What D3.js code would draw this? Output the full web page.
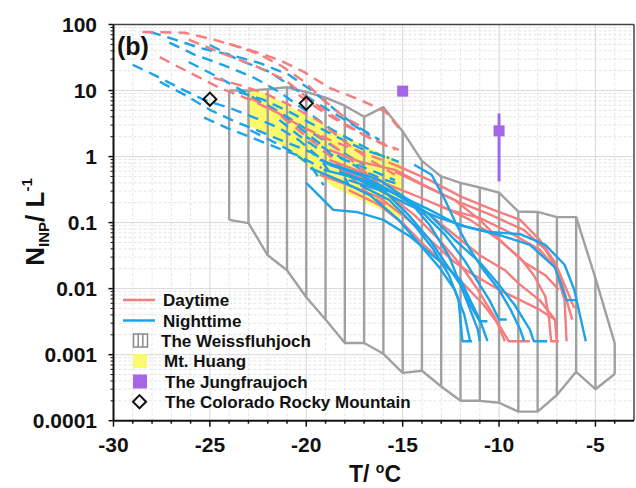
<!DOCTYPE html>
<html><head><meta charset="utf-8">
<script src="https://cdn.jsdelivr.net/npm/d3@7"></script>
<style>body{margin:0;background:#fff}svg text{font-family:"Liberation Sans",Arial,sans-serif;font-weight:bold;fill:#111}</style>
</head><body><svg id="c" width="636" height="488"></svg>
<script>
// ---------- data ----------
const xTicks = [-30, -25, -20, -15, -10, -5];
const yTicks = [100, 10, 1, 0.1, 0.01, 0.001, 0.0001];
const yTickLabels = ["100", "10", "1", "0.1", "0.01", "0.001", "0.0001"];

// The Weissfluhjoch range (upper / lower envelope at each integer T)
const weissT = [-24,-23,-22,-21,-20,-19,-18,-17,-16,-15,-14,-13,-12,-11,-10,-9,-8,-7,-6,-5,-4];
const weissUpper = [10,10,10.5,11.2,9.5,7.8,5.9,4.0,5.6,2.4,0.86,0.50,0.40,0.34,0.285,0.147,0.145,0.121,0.121,0.0144,0.0015];
const weissLower = [0.11,0.098,0.032,0.019,0.0074,0.0034,0.0015,0.0015,0.00103,0.00053,0.00057,0.00033,0.0002,0.0002,0.000187,0.000137,0.000137,0.000245,0.00055,0.0003,0.00051];

// Mt. Huang (outline)
const huang = [[-23.05,11.3],[-21.9,8.6],[-20.9,5.7],[-19.8,4.0],[-18.6,2.5],[-16.9,1.42],[-15.3,0.89],[-15.0,0.70],
  [-15.0,0.14],[-15.2,0.118],[-16.9,0.2],[-18.6,0.35],[-20.35,0.89],[-22.1,2.26],[-23.05,3.0]];

// The Jungfraujoch
const jungT = [-15, -10];
const jungN = [9.8, 2.45];
const jungLo = [null, 0.42];
const jungHi = [null, 4.5];

// The Colorado Rocky Mountain
const coloT = [-25, -20];
const coloN = [7.4, 6.4];

// Daytime, dashed
const dayDashed = [
  [[-28.5,77],[-26.3,75],[-24.8,59],[-22.9,41],[-21.4,29],[-20.1,19],[-18.8,11],[-17.2,7.2],[-15.9,4.8],[-15.2,2.7]],
  [[-27.6,32],[-26.1,19],[-24.5,11],[-22.9,7.2],[-21.6,4.8],[-20.4,3.0],[-18.8,1.8],[-17.2,1.18],[-15.4,0.75]],
  [[-26.1,59],[-24.2,35],[-22.7,24],[-21.1,14.5],[-19.8,7.2],[-18.5,3.9],[-17.0,2.1],[-15.4,1.26]],
  [[-24.8,15.6],[-23.5,12.2],[-22.2,9.2],[-20.9,6.1],[-19.3,3.4],[-18.0,1.67],[-16.7,0.89],[-15.4,0.53]],
  [[-22.9,7.7],[-21.6,4.8],[-20.4,2.5],[-19.1,1.26],[-17.8,0.53],[-16.7,0.26],[-15.9,0.185]],
  [[-24.0,51],[-22.5,36],[-21.3,23.7],[-20.1,13.6],[-19.1,7.2],[-18.0,3.9],[-17.0,2.7]],
  [[-20.4,8.6],[-19.3,5.1],[-18.0,3.0],[-16.5,1.79],[-15.2,1.26]],
  [[-19.5,2.2],[-18.5,1.4],[-17.5,0.8],[-16.5,0.45],[-15.8,0.3]]
];
// Nighttime, dashed
const nightDashed = [
  [[-28.1,77],[-26.8,59],[-25.5,44],[-24.0,35],[-22.4,26],[-20.9,17.3],[-19.6,9.5],[-18.5,5.1],[-17.5,3.0],[-16.2,1.79]],
  [[-29.0,24.5],[-27.9,17.3],[-26.6,11],[-25.3,7.2],[-24.0,5.5],[-22.7,3.9],[-21.4,2.7],[-20.4,1.79],[-19.3,0.95],[-18.5,0.44]],
  [[-27.1,53],[-25.8,35],[-24.2,23.7],[-22.7,15.6],[-21.4,9.5],[-20.1,5.1],[-18.8,2.7],[-17.5,1.67],[-16.2,1.06],[-15.2,0.83]],
  [[-27.6,13.6],[-26.3,8.6],[-25.0,5.1],[-23.7,3.4],[-22.4,2.4],[-21.1,1.67],[-19.8,1.18],[-18.8,0.75]],
  [[-26.1,27],[-24.5,15.6],[-23.2,9.5],[-21.9,5.5],[-20.6,3.1],[-19.4,1.67],[-18.4,0.83],[-17.8,0.37]],
  [[-25.3,3.9],[-24.1,2.7],[-22.8,1.92],[-21.5,1.35],[-20.4,1.03],[-19.2,0.67]],
  [[-23.5,9.5],[-22.2,7.2],[-20.9,4.8],[-19.6,3.0],[-18.3,1.92],[-17.0,1.26],[-15.7,0.95]],
  [[-25.0,49],[-23.5,29],[-21.9,19.2],[-20.5,10.2],[-19.3,6.1],[-18.0,3.6],[-16.7,2.1]],
  [[-21.4,3.6],[-20.4,2.1],[-19.3,1.26],[-18.0,0.89],[-16.7,0.63],[-15.4,0.44]],
  [[-22.9,2.5],[-21.9,1.79],[-20.9,1.26],[-19.8,0.75],[-19.1,0.37]],
  [[-20.0,2.0],[-19.0,1.3],[-18.0,0.9],[-17.0,0.6],[-16.0,0.45],[-15.2,0.38]],
  [[-22.0,6.0],[-21.0,4.0],[-20.0,2.6],[-19.0,1.7],[-18.0,1.1],[-17.0,0.75]]
];
// Daytime, solid
const daySolid = [
  [[-15.4,0.75],[-13.6,0.44],[-12.0,0.25],[-10.3,0.156],[-8.9,0.11],[-7.9,0.055],[-7.1,0.025],[-6.6,0.0114],[-6.1,0.0051]],
  [[-15.4,0.59],[-13.6,0.33],[-12.0,0.2],[-10.3,0.126],[-8.7,0.077],[-7.6,0.039],[-6.9,0.018],[-6.5,0.0067],[-6.2,0.0034]],
  [[-18.8,0.89],[-17.2,0.59],[-15.7,0.37],[-14.1,0.24],[-12.6,0.156],[-11.0,0.118],[-9.5,0.072],[-7.9,0.039],[-7.1,0.021],[-6.6,0.0067],[-6.5,0.0016]],
  [[-18.3,0.63],[-16.7,0.44],[-15.2,0.26],[-13.6,0.131],[-12.3,0.065],[-11.0,0.032],[-9.7,0.019],[-8.9,0.0114],[-7.9,0.0067],[-7.1,0.0034],[-7.0,0.0016]],
  [[-19.3,0.53],[-17.8,0.37],[-16.2,0.24],[-14.7,0.11],[-13.6,0.055],[-12.3,0.025],[-11.3,0.016],[-10.0,0.0096],[-8.9,0.0067],[-7.9,0.0048],[-7.1,0.0034]],
  [[-17.8,0.31],[-16.2,0.185],[-14.9,0.092],[-13.9,0.046],[-12.8,0.023],[-11.8,0.0114],[-10.8,0.0057],[-10.0,0.0028],[-9.5,0.0016],[-8.4,0.0016]],
  [[-17.2,0.44],[-15.7,0.26],[-14.4,0.131],[-13.1,0.055],[-12.0,0.023],[-11.1,0.0096],[-10.2,0.0036],[-9.7,0.0016]],
  [[-18.8,1.26],[-17.2,0.83],[-15.4,0.63],[-13.9,0.37],[-12.3,0.22],[-11.0,0.11],[-9.7,0.046],[-8.7,0.025],[-7.6,0.016],[-6.9,0.0096]],
  [[-13.1,0.185],[-11.5,0.11],[-10.0,0.055],[-8.9,0.029],[-8.2,0.016],[-7.6,0.0076],[-7.4,0.0034],[-7.3,0.0016],[-6.9,0.0016]]
];
// Nighttime, solid
const nightSolid = [
  [[-19.8,0.67],[-18.3,0.44],[-16.7,0.26],[-15.2,0.11],[-14.1,0.046],[-13.1,0.021],[-12.3,0.0096],[-11.8,0.004],[-11.5,0.0016]],
  [[-20.0,0.40],[-18.6,0.156],[-17.4,0.145],[-16.0,0.11],[-14.6,0.061],[-13.8,0.039],[-12.7,0.021],[-12.0,0.0136],[-11.5,0.0067],[-11.0,0.0034],[-10.6,0.0016]],
  [[-19.3,0.89],[-17.8,0.63],[-16.2,0.44],[-14.7,0.22],[-13.6,0.092],[-12.6,0.031],[-12.0,0.0114],[-11.5,0.0048],[-11.1,0.0024],[-11.0,0.0016]],
  [[-18.8,0.75],[-17.2,0.53],[-15.7,0.31],[-14.1,0.156],[-12.8,0.065],[-11.8,0.027],[-11.0,0.0114],[-10.5,0.0067],[-10.0,0.0034],[-9.6,0.0034]],
  [[-18.3,0.59],[-16.7,0.41],[-15.2,0.26],[-13.6,0.156],[-12.1,0.092],[-10.5,0.072],[-8.9,0.067],[-7.6,0.046],[-6.6,0.023],[-6.1,0.0096],[-5.5,0.0016]],
  [[-17.8,0.44],[-16.2,0.31],[-14.7,0.185],[-13.1,0.118],[-11.5,0.083],[-10.0,0.065],[-8.4,0.046],[-7.1,0.021],[-6.5,0.0067],[-6.0,0.0067]],
  [[-18.0,0.53],[-16.5,0.37],[-14.9,0.24],[-13.6,0.131],[-12.3,0.055],[-11.0,0.025],[-10.0,0.0114],[-9.2,0.0057],[-8.4,0.0024],[-8.2,0.0016],[-7.5,0.0016]],
  [[-17.2,0.37],[-15.7,0.22],[-14.4,0.092],[-13.4,0.039],[-12.6,0.016],[-12.1,0.0067],[-11.9,0.0016],[-11.4,0.0016]],
  [[-19.1,0.63],[-17.5,0.48],[-15.9,0.29],[-14.7,0.131],[-13.6,0.055],[-12.8,0.025],[-12.0,0.0114],[-11.5,0.0057],[-11.0,0.0032],[-10.6,0.0032]],
  [[-14.4,0.75],[-13.5,0.53],[-12.8,0.22],[-12.2,0.092],[-11.5,0.039],[-10.8,0.019],[-10.0,0.0096],[-9.4,0.0048],[-8.9,0.0024],[-8.7,0.0016]]
];

const legendLabels = ["Daytime", "Nighttime", "The Weissfluhjoch", "Mt. Huang", "The Jungfraujoch", "The Colorado Rocky Mountain"];

// ---------- drawing ----------
const RED = "#f47d7d", BLUE = "#1fa3e8", GREY = "#a0a0a0", YEL = "#fcfa6a", PUR = "#a466e6";
const svg = d3.select("#c");
const x = d3.scaleLinear().domain([-30, -3]).range([113.5, 634]);
const y = d3.scaleLog().domain([0.0001, 100]).range([420.7, 24.5]);
const X0 = 113.5, X1 = 634, Y0 = 420.7, Y1 = 24.5;

// grid
const g = svg.append("g");
const minorY = [];
for (let e = -4; e < 2; e++) for (let m = 2; m <= 9; m++) minorY.push(m * Math.pow(10, e));
g.selectAll(".gy").data(minorY).join("line")
  .attr("x1", X0).attr("x2", X1).attr("y1", d => y(d)).attr("y2", d => y(d))
  .attr("stroke", "#e4e4e4").attr("stroke-dasharray", "3,2").attr("stroke-width", 1);
g.selectAll(".gY").data(yTicks.slice(1, -1)).join("line")
  .attr("x1", X0).attr("x2", X1).attr("y1", d => y(d)).attr("y2", d => y(d))
  .attr("stroke", "#d8d8d8").attr("stroke-width", 1);
g.selectAll(".gx").data(d3.range(-29, -3)).join("line")
  .attr("y1", Y0).attr("y2", Y1).attr("x1", d => x(d)).attr("x2", d => x(d))
  .attr("stroke", d => xTicks.includes(d) ? "#d8d8d8" : "#e4e4e4")
  .attr("stroke-dasharray", d => xTicks.includes(d) ? null : "3,2").attr("stroke-width", 1);

// Mt. Huang
svg.append("path").datum(huang)
  .attr("d", d3.line().x(d => x(d[0])).y(d => y(d[1])).curve(d3.curveLinearClosed))
  .attr("fill", YEL).attr("stroke", "none");

// Weissfluhjoch
const wg = svg.append("g").attr("fill", "none").attr("stroke", GREY).attr("stroke-width", 2.4).attr("stroke-linejoin", "round");
const wl = d3.line().x(d => x(d[0])).y(d => y(d[1]));
wg.append("path").attr("d", wl(weissT.map((t, i) => [t, weissUpper[i]])));
wg.append("path").attr("d", wl(weissT.map((t, i) => [t, weissLower[i]])));
wg.selectAll(".v").data(weissT).join("line")
  .attr("x1", d => x(d)).attr("x2", d => x(d))
  .attr("y1", (d, i) => y(weissUpper[i])).attr("y2", (d, i) => y(weissLower[i]));

// series lines
const line = d3.line().x(d => x(d[0])).y(d => y(d[1]));
function drawSet(data, color, dashed) {
  svg.append("g").selectAll("path").data(data).join("path")
    .attr("d", line).attr("fill", "none").attr("stroke", color).attr("stroke-width", 2.4)
    .attr("stroke-dasharray", dashed ? "11,7" : null).attr("stroke-linejoin", "round");
}
drawSet(nightDashed, BLUE, true);
drawSet(dayDashed, RED, true);
drawSet(daySolid, RED, false);
drawSet(nightSolid, BLUE, false);

// Jungfraujoch
jungT.forEach((t, i) => {
  if (jungLo[i] != null) svg.append("line").attr("x1", x(t)).attr("x2", x(t))
    .attr("y1", y(jungHi[i])).attr("y2", y(jungLo[i])).attr("stroke", PUR).attr("stroke-width", 3);
  svg.append("rect").attr("x", x(t) - 5.5).attr("y", y(jungN[i]) - 5.5).attr("width", 11).attr("height", 11).attr("fill", PUR);
});
// Colorado
coloT.forEach((t, i) => {
  svg.append("path").attr("d", d3.symbol(d3.symbolDiamond2, 110)())
    .attr("transform", `translate(${x(t)},${y(coloN[i])})`)
    .attr("fill", "none").attr("stroke", "#111").attr("stroke-width", 2);
});

// frame and axes
svg.append("line").attr("x1", X0).attr("x2", X1).attr("y1", Y1).attr("y2", Y1).attr("stroke", "#444").attr("stroke-width", 1.5);
svg.append("line").attr("x1", X1).attr("x2", X1).attr("y1", Y1).attr("y2", Y0).attr("stroke", "#444").attr("stroke-width", 1.5);
svg.append("line").attr("x1", X0).attr("x2", X1).attr("y1", Y0).attr("y2", Y0).attr("stroke", "#111").attr("stroke-width", 2);
svg.append("line").attr("x1", X0).attr("x2", X0).attr("y1", Y1).attr("y2", Y0).attr("stroke", "#111").attr("stroke-width", 2);

// x ticks
svg.append("g").selectAll("line").data(d3.range(-30, -3)).join("line")
  .attr("x1", d => x(d)).attr("x2", d => x(d)).attr("y1", Y0)
  .attr("y2", d => Y0 + (xTicks.includes(d) ? 6 : 3)).attr("stroke", "#111").attr("stroke-width", 1.5);
svg.append("g").selectAll("text").data(xTicks).join("text")
  .attr("x", d => x(d)).attr("y", 451.5).attr("text-anchor", "middle").attr("font-size", 21).text(d => d);
// y ticks
svg.append("g").selectAll("line").data(minorY).join("line")
  .attr("x1", X0 - 3).attr("x2", X0).attr("y1", d => y(d)).attr("y2", d => y(d)).attr("stroke", "#111").attr("stroke-width", 1);
svg.append("g").selectAll("line").data(yTicks).join("line")
  .attr("x1", X0 - 5).attr("x2", X0).attr("y1", d => y(d)).attr("y2", d => y(d)).attr("stroke", "#111").attr("stroke-width", 1.5);
svg.append("g").selectAll("text").data(yTicks).join("text")
  .attr("x", 97).attr("y", d => y(d) + 7.5).attr("text-anchor", "end").attr("font-size", 21).text((d, i) => yTickLabels[i]);

// titles
const xt = svg.append("text").attr("x", 375).attr("y", 482).attr("text-anchor", "middle").attr("font-size", 23);
xt.append("tspan").text("T/ ");
xt.append("tspan").attr("font-size", 14).attr("dy", -9).text("o");
xt.append("tspan").attr("dy", 9).text("C");

const yt = svg.append("text").attr("transform", "translate(44,222) rotate(-90)").attr("text-anchor", "middle").attr("font-size", 26);
yt.append("tspan").text("N");
yt.append("tspan").attr("font-size", 15).attr("dy", 5).text("INP");
yt.append("tspan").attr("dy", -5).text("/ L");
yt.append("tspan").attr("font-size", 15).attr("dy", -12).text("-1");

svg.append("text").attr("x", 117).attr("y", 55).attr("font-size", 25).text("(b)");

// legend
const lg = svg.append("g");
const rowY = [300, 320.5, 340.5, 361, 381.5, 401.7];
const textX = [163, 163, 161, 164, 165, 165];
lg.append("line").attr("x1", 123).attr("x2", 155).attr("y1", rowY[0]).attr("y2", rowY[0]).attr("stroke", RED).attr("stroke-width", 2.5);
lg.append("line").attr("x1", 123).attr("x2", 155).attr("y1", rowY[1]).attr("y2", rowY[1]).attr("stroke", BLUE).attr("stroke-width", 2.5);
lg.append("rect").attr("x", 133.5).attr("y", rowY[2] - 6.5).attr("width", 14).attr("height", 13).attr("fill", "none").attr("stroke", "#8a8a8a").attr("stroke-width", 1.5);
[138.2, 142.8].forEach(v => lg.append("line").attr("x1", v).attr("x2", v).attr("y1", rowY[2] - 6.5).attr("y2", rowY[2] + 6.5).attr("stroke", "#8a8a8a").attr("stroke-width", 1.5));
lg.append("rect").attr("x", 133).attr("y", rowY[3] - 7).attr("width", 14).attr("height", 14).attr("fill", YEL);
lg.append("rect").attr("x", 133).attr("y", rowY[4] - 7).attr("width", 14).attr("height", 14).attr("fill", PUR);
lg.append("path").attr("d", d3.symbol(d3.symbolDiamond2, 110)()).attr("transform", `translate(139.5,${rowY[5]})`)
  .attr("fill", "none").attr("stroke", "#111").attr("stroke-width", 2);
lg.selectAll("text").data(legendLabels).join("text")
  .attr("x", (d, i) => textX[i]).attr("y", (d, i) => rowY[i] + 6).attr("font-size", 17).text(d => d);
</script></body></html>
